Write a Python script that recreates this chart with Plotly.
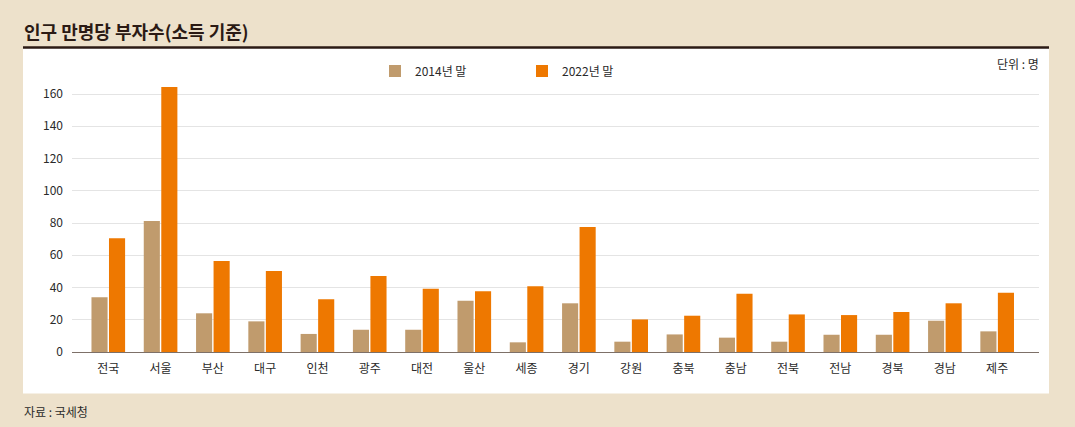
import plotly.graph_objects as go

categories = ["전국", "서울", "부산", "대구", "인천", "광주", "대전", "울산", "세종",
              "경기", "강원", "충북", "충남", "전북", "전남", "경북", "경남", "제주"]
values_2014 = [33.9, 81.2, 24.0, 19.0, 11.2, 13.8, 13.8, 31.8, 6.0,
               30.2, 6.4, 10.9, 8.9, 6.4, 10.7, 10.7, 19.4, 12.8]
values_2022 = [70.5, 164.3, 56.4, 50.2, 32.7, 47.1, 39.3, 37.6, 40.7,
               77.5, 20.2, 22.5, 36.2, 23.3, 22.9, 24.8, 30.2, 36.8]
series_names = ["2014년 말", "2022년 말"]
y_ticks = [0, 20, 40, 60, 80, 100, 120, 140, 160]

W, H = 1075, 427
ML, MR, MT, MB = 72, 36, 80, 75
PW, PH = W - ML - MR, H - MT - MB

def px(x):
    return (x - ML) / PW

def py(y):
    return (H - MB - y) / PH

BG = "#ede1cb"
TAN = "#c09b6d"
ORANGE = "#ee7800"
DARK = "#2b1a14"
TXT = "#2a2a2a"
FONT = "Liberation Sans Narrow, Noto Sans CJK KR, sans-serif"

fig = go.Figure()
fig.add_trace(go.Bar(x=categories, y=values_2014, name=series_names[0],
                     marker=dict(color=TAN, line=dict(width=0))))
fig.add_trace(go.Bar(x=categories, y=values_2022, name=series_names[1],
                     marker=dict(color=ORANGE, line=dict(width=0))))

fig.update_layout(
    width=W, height=H,
    margin=dict(l=ML, r=MR, t=MT, b=MB, pad=0),
    paper_bgcolor=BG,
    plot_bgcolor="rgba(0,0,0,0)",
    barmode="group",
    bargap=0.33,
    bargroupgap=0.08,
    font=dict(family=FONT, size=12, color=TXT),
    showlegend=True,
    legend=dict(orientation="h", x=px(375), y=py(71), xanchor="left", yanchor="middle",
                bgcolor="rgba(0,0,0,0)", font=dict(size=12, color=TXT),
                entrywidth=102, entrywidthmode="pixels", itemwidth=30,
                traceorder="normal"),
    xaxis=dict(type="category", range=[-0.694, 17.8], showgrid=False,
               showline=True, linecolor="#7d7068", linewidth=1,
               ticks="", tickfont=dict(size=12, color=TXT), ticklabelstandoff=6,
               fixedrange=True),
    yaxis=dict(range=[0, PH / 1.6125], tickvals=y_ticks, showgrid=True,
               gridcolor="#e4e4e4", gridwidth=1, zeroline=False, showline=False,
               ticks="", tickfont=dict(size=12, color=TXT), ticklabelstandoff=8,
               fixedrange=True),
    shapes=[
        dict(type="rect", xref="paper", yref="paper", x0=px(23), x1=px(1049),
             y0=py(393.5), y1=py(47), fillcolor="white", line=dict(width=0), layer="below"),
        dict(type="line", xref="paper", yref="paper", x0=px(23), x1=px(1049),
             y0=py(47.5), y1=py(47.5), line=dict(color=DARK, width=2.5)),
    ],
    annotations=[
        dict(text="<b>인구 만명당 부자수(소득 기준)</b>", xref="paper", yref="paper",
             x=px(22), y=py(31), xanchor="left", yanchor="middle", showarrow=False,
             font=dict(family="Noto Sans CJK KR", size=18, color=DARK)),
        dict(text="단위 : 명", xref="paper", yref="paper", x=px(1041), y=py(63),
             xanchor="right", yanchor="middle", showarrow=False,
             font=dict(size=12, color=TXT)),
        dict(text="자료 : 국세청", xref="paper", yref="paper", x=px(22), y=py(411),
             xanchor="left", yanchor="middle", showarrow=False,
             font=dict(size=12, color=TXT)),
    ],
)

fig.write_html("out.html", config={"displayModeBar": False})
